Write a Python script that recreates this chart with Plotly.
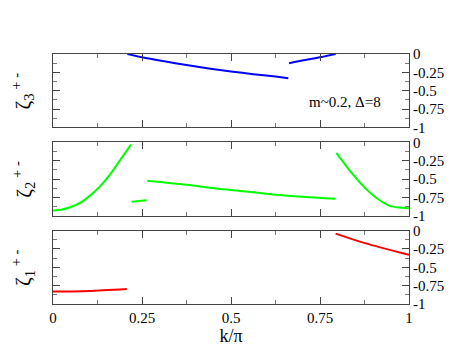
import plotly.graph_objects as go
from plotly.subplots import make_subplots

# zeta_3 (blue, top panel)
k3_a = [0.209, 0.25, 0.3125, 0.375, 0.4375, 0.5, 0.5625, 0.625, 0.661]
z3_a = [0.0, -0.045, -0.10, -0.15, -0.197, -0.238, -0.275, -0.308, -0.33]
k3_b = [0.663, 0.70, 0.75, 0.794]
z3_b = [-0.127, -0.09, -0.045, 0.0]

# zeta_2 (green, middle panel)
k2_a = [0.0, 0.02, 0.048, 0.076, 0.104, 0.132, 0.160, 0.188, 0.219]
z2_a = [-0.928, -0.922, -0.886, -0.827, -0.727, -0.60, -0.44, -0.245, -0.031]
k2_b = [0.221, 0.263]
z2_b = [-0.81, -0.79]
k2_c = [0.265, 0.375, 0.469, 0.5, 0.626, 0.794]
z2_c = [-0.523, -0.578, -0.637, -0.65, -0.714, -0.77]
k2_d = [0.796, 0.82, 0.843, 0.875, 0.909, 0.946, 0.975, 1.0]
z2_d = [-0.144, -0.30, -0.44, -0.614, -0.76, -0.866, -0.89, -0.90]

# zeta_1 (red, bottom panel)
k1_a = [0.0, 0.1, 0.207]
z1_a = [-0.83, -0.822, -0.795]
k1_b = [0.794, 0.876, 1.0]
z1_b = [-0.04, -0.17, -0.33]

xtickvals = [0, 0.25, 0.5, 0.75, 1]
xticktext = ['0', '0.25', '0.5', '0.75', '1']
ytickvals = [0, -0.25, -0.5, -0.75, -1]
yticktext = ['0', '-0.25', '-0.5', '-0.75', '-1']

serif = 'Liberation Serif'

fig = make_subplots(rows=3, cols=1, shared_xaxes=True, vertical_spacing=0.06)

panels = [
    (1, 'blue', [(k3_a, z3_a), (k3_b, z3_b)], 'ζ<sub>3</sub><sup> + -</sup>'),
    (2, '#00ff00', [(k2_a, z2_a), (k2_b, z2_b), (k2_c, z2_c), (k2_d, z2_d)], 'ζ<sub>2</sub><sup> + -</sup>'),
    (3, 'red', [(k1_a, z1_a), (k1_b, z1_b)], 'ζ<sub>1</sub><sup> + -</sup>'),
]

for row, col, segs, label in panels:
    for kx, zy in segs:
        fig.add_trace(go.Scatter(x=kx, y=zy, mode='lines', showlegend=False,
                                 line=dict(color=col, width=2, shape='spline', smoothing=0.8)),
                      row=row, col=1)
    fig.update_yaxes(range=[-1, 0], side='right', tickvals=ytickvals, ticktext=yticktext,
                     ticks='inside', ticklen=7, tickcolor='#444', mirror='allticks',
                     showline=True, linecolor='#444', linewidth=1, showgrid=False, zeroline=False,
                     minor=dict(dtick=0.125, ticks='inside', ticklen=4, tickcolor='#777'),
                     tickfont=dict(family=serif, size=15, color='black'),
                     row=row, col=1)
    fig.update_xaxes(range=[0, 1], tickvals=xtickvals, ticktext=xticktext,
                     ticks='inside', ticklen=7, tickcolor='#444', mirror='allticks',
                     showline=True, linecolor='#444', linewidth=1, showgrid=False, zeroline=False,
                     minor=dict(tickvals=[0.125, 0.375, 0.625, 0.875], ticks='inside', ticklen=4, tickcolor='#777'),
                     tickfont=dict(family=serif, size=15, color='black'),
                     row=row, col=1)
    yref = 'y domain' if row == 1 else 'y%d domain' % row
    fig.add_annotation(text=label, xref='paper', yref=yref, x=-0.085, y=0.5,
                       xanchor='center', yanchor='middle',
                       textangle=-90, showarrow=False,
                       font=dict(family=serif, size=21, color='black'))

fig.update_xaxes(title=dict(text='k/π', font=dict(family=serif, size=18, color='black'), standoff=0),
                 row=3, col=1)

fig.add_annotation(text='m~0.2, Δ=8', xref='x', yref='y', x=0.82, y=-0.66,
                   showarrow=False, font=dict(family=serif, size=15, color='black'))

# page body has an 8px margin, so offsets are reduced accordingly
fig.update_layout(width=463, height=358, margin=dict(l=45, r=62, t=46, b=62),
                  plot_bgcolor='white', paper_bgcolor='white',
                  font=dict(family=serif, color='black'))

fig.write_html("out.html")
